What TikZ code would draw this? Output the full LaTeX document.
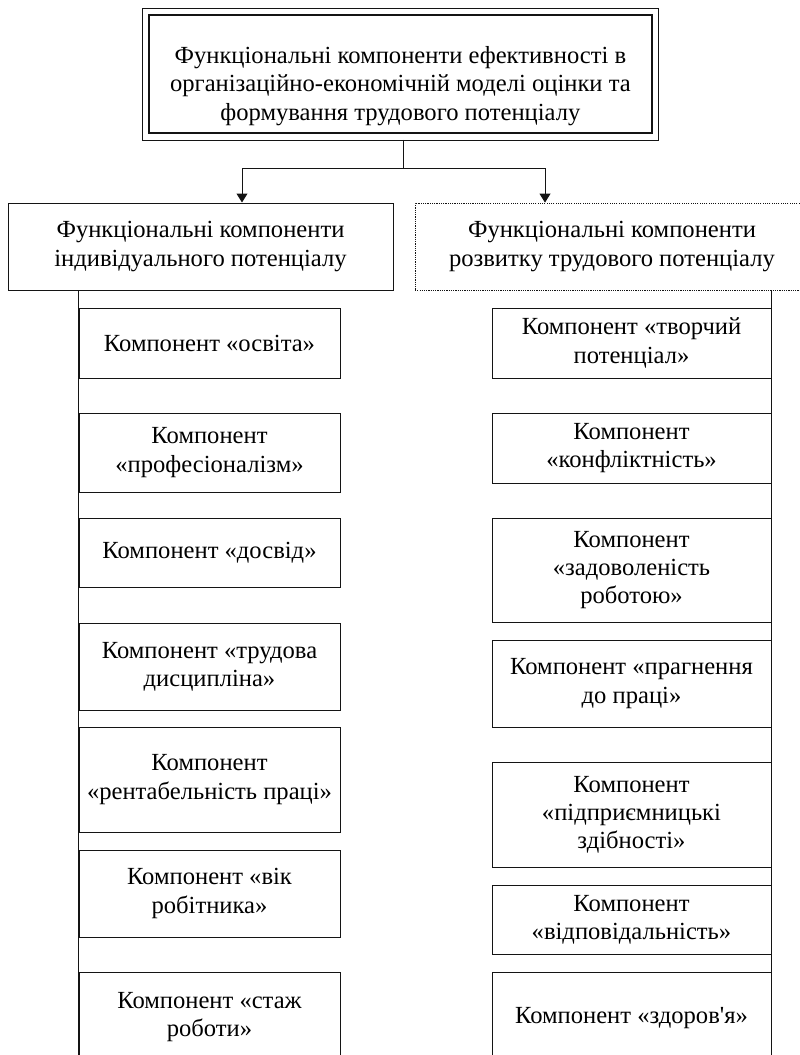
\documentclass[tikz,border=0pt]{standalone}
\usepackage{fontspec}
\setmainfont{Liberation Serif}
\usetikzlibrary{arrows.meta,positioning,calc}
\definecolor{ink}{RGB}{20,20,20}
\tikzset{
  frame/.style={draw=ink,line width=1.4pt,inner sep=4pt,align=center,
    minimum width=12.57cm,minimum height=2.95cm},
  head/.style={draw=ink,line width=0.7pt,inner sep=4pt,align=center,minimum height=2.175cm},
  comp/.style={draw=ink,line width=0.7pt,inner sep=3pt,align=center},
  ln/.style={draw=ink,line width=0.7pt},
  arr/.style={-{Triangle[length=6.4pt,width=7.8pt]},line width=0.7pt,ink},
}
\begin{document}
\begin{tikzpicture}[every node/.style={font=\fontsize{17.5}{20}\selectfont}]
\useasboundingbox (0,0) rectangle (20,-26.375);
\node[frame] (top) at (10.01,-1.85) {};
\node[align=center] (topTxt) at ([yshift=-0.3cm]top.center) {Функціональні компоненти ефективності в\\
  організаційно-економічній моделі оцінки та\\формування трудового потенціалу};
\draw[ln,line width=0.6pt] ([shift={(-0.15,0.15)}]top.north west) rectangle ([shift={(0.15,-0.15)}]top.south east);
\node[head,minimum width=9.625cm] (hdrL) at (5.0125,-6.1625) {Функціональні компоненти\\індивідуального потенціалу};
\node[head,minimum width=9.85cm,line width=0.6pt,dash pattern=on 0.8pt off 0.8pt] (hdrR) at (15.3,-6.1625)
  {Функціональні компоненти\\розвитку трудового потенціалу};
\coordinate (fork) at (10.075,-4.2);
\coordinate (aL) at (6.05,0);
\coordinate (aR) at (13.625,0);
\draw[ln] ($(top.south -| fork)+(0,-0.15)$) -- (fork);
\draw[arr] (fork) -| (hdrL.north -| aL);
\draw[arr] (fork) -| (hdrR.north -| aR);
\foreach \i/\y/\h/\lab in {1/-8.575/1.75/{Компонент «освіта»},
    2/-11.3125/1.975/{Компонент\\«професіоналізм»},
    3/-13.8125/1.725/{Компонент «досвід»},
    4/-16.6625/2.175/{Компонент «трудова\\дисципліна»},
    5/-19.4875/2.625/{Компонент\\«рентабельність праці»},
    6/-22.3375/2.175/{Компонент «вік\\робітника»},
    7/-25.425/2.25/{Компонент «стаж\\роботи»}}{
  \node[comp,minimum width=6.525cm,minimum height=\h cm] (l\i) at (5.2375,\y) {\lab};}
\foreach \i/\y/\h/\lab in {1/-8.575/1.75/{Компонент «творчий\\потенціал»},
    2/-11.2/1.75/{Компонент\\«конфліктність»},
    3/-14.25/2.6/{Компонент\\«задоволеність\\роботою»},
    4/-17.0875/2.175/{Компонент «прагнення\\до праці»},
    5/-20.3625/2.625/{Компонент\\«підприємницькі\\здібності»},
    6/-22.9875/1.725/{Компонент\\«відповідальність»},
    7/-25.45/2.3/{Компонент «здоров\textquotesingle я»}}{
  \node[comp,minimum width=6.975cm,minimum height=\h cm] (r\i) at (15.7875,\y) {\lab};}
\coordinate (endB) at (0,-27);
\draw[ln] (hdrL.south -| l1.west) -- (l7.west |- endB);
\draw[ln] (hdrR.south -| r1.east) -- (r7.east |- endB);
\end{tikzpicture}
\end{document}
